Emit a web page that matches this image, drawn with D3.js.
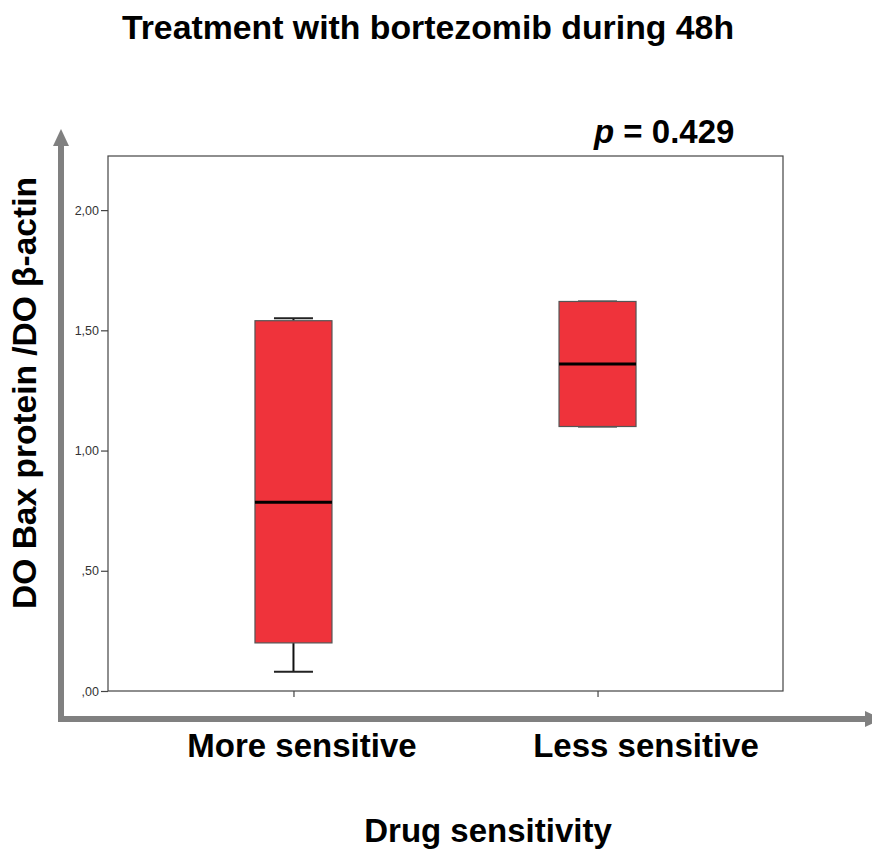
<!DOCTYPE html>
<html>
<head>
<meta charset="utf-8">
<script src="https://cdn.jsdelivr.net/npm/d3@7"></script>
<style>
  html, body { margin: 0; padding: 0; background: #fff; }
  svg { display: block; font-family: "Liberation Sans", Arial, Helvetica, sans-serif; }
</style>
</head>
<body>
<svg id="chart" width="872" height="850"></svg>
<script>
// Groups and box-plot summaries (DO Bax / DO β-actin)
const categories = ["More sensitive", "Less sensitive"];
const whiskerLow = [0.08, 1.10];
const q1Values = [0.20, 1.10];
const medianValues = [0.785, 1.36];
const q3Values = [1.54, 1.62];
const whiskerHigh = [1.55, 1.62];
const yTicks = [0, 0.5, 1.0, 1.5, 2.0];
const yTickLabels = [",00", ",50", "1,00", "1,50", "2,00"];
const yDomainMax = 2.225;

const titleText = "Treatment with bortezomib during 48h";
const yTitle = "DO Bax protein /DO β-actin";
const xTitle = "Drug sensitivity";

const boxes = categories.map((c, i) => ({
  cat: c, lo: whiskerLow[i], q1: q1Values[i], med: medianValues[i],
  q3: q3Values[i], hi: whiskerHigh[i]
}));

const svg = d3.select("#chart");
const frame = { left: 108, right: 783, top: 156, bottom: 691 };

const x = d3.scalePoint().domain(categories)
  .range([frame.left, frame.right]).padding(0.61);
const y = d3.scaleLinear().domain([0, yDomainMax])
  .range([frame.bottom, frame.top]);

const boxW = 77, capW = 39;
const red = "#ef333b", grey = "#808080", frameCol = "#444";

// Plot frame
svg.append("rect")
  .attr("x", frame.left).attr("y", frame.top)
  .attr("width", frame.right - frame.left).attr("height", frame.bottom - frame.top)
  .attr("fill", "none").attr("stroke", frameCol).attr("stroke-width", 1.2);

// Y axis ticks and labels
const yAxis = d3.axisLeft(y).tickValues(yTicks)
  .tickFormat((d, i) => yTickLabels[i]).tickSize(7).tickPadding(2);
const gy = svg.append("g").attr("transform", `translate(${frame.left},0)`).call(yAxis);
gy.select(".domain").remove();
gy.selectAll("line").attr("stroke", frameCol).attr("stroke-width", 1.2);
gy.selectAll("text").attr("font-size", 12.5).attr("fill", "#333")
  .attr("font-family", "'Liberation Sans', Arial, sans-serif");

// X axis ticks (no labels on the axis itself)
const xAxis = d3.axisBottom(x).tickSize(6).tickFormat("");
const gx = svg.append("g").attr("transform", `translate(0,${frame.bottom})`).call(xAxis);
gx.select(".domain").remove();
gx.selectAll("line").attr("stroke", frameCol).attr("stroke-width", 1.2);

// Box plots
const g = svg.append("g");
boxes.forEach(b => {
  const cx = x(b.cat);
  // whiskers
  g.append("line").attr("x1", cx).attr("x2", cx)
    .attr("y1", y(b.q3)).attr("y2", y(b.hi))
    .attr("stroke", "#111").attr("stroke-width", 2);
  g.append("line").attr("x1", cx).attr("x2", cx)
    .attr("y1", y(b.q1)).attr("y2", y(b.lo))
    .attr("stroke", "#111").attr("stroke-width", 2);
  [b.lo, b.hi].forEach(v => {
    g.append("line").attr("x1", cx - capW / 2).attr("x2", cx + capW / 2)
      .attr("y1", y(v)).attr("y2", y(v))
      .attr("stroke", "#222").attr("stroke-width", 2);
  });
  // box
  g.append("rect")
    .attr("x", cx - boxW / 2).attr("y", y(b.q3))
    .attr("width", boxW).attr("height", y(b.q1) - y(b.q3))
    .attr("fill", red).attr("stroke", "#555").attr("stroke-width", 1.2);
  // median
  g.append("line").attr("x1", cx - boxW / 2).attr("x2", cx + boxW / 2)
    .attr("y1", y(b.med)).attr("y2", y(b.med))
    .attr("stroke", "#000").attr("stroke-width", 3);
});

// Grey arrow axes
const arrowX = 61, arrowY = 719, arrowW = 6;
svg.append("line").attr("x1", arrowX).attr("x2", arrowX)
  .attr("y1", arrowY + arrowW / 2).attr("y2", 145)
  .attr("stroke", grey).attr("stroke-width", arrowW);
svg.append("path")
  .attr("d", `M${arrowX - 8},146 L${arrowX},129 L${arrowX + 8},146 Z`)
  .attr("fill", grey);
svg.append("line").attr("x1", arrowX - arrowW / 2).attr("x2", 866)
  .attr("y1", arrowY).attr("y2", arrowY)
  .attr("stroke", grey).attr("stroke-width", arrowW);
svg.append("path")
  .attr("d", `M865,${arrowY - 8} L882,${arrowY} L865,${arrowY + 8} Z`)
  .attr("fill", grey);

// Texts
const bold = sel => sel.attr("font-weight", "bold").attr("fill", "#000");
bold(svg.append("text").attr("x", 428).attr("y", 39)
  .attr("text-anchor", "middle").attr("font-size", 33.8).text(titleText));

const pText = svg.append("text").attr("x", 594).attr("y", 143)
  .attr("font-size", 33).attr("font-weight", "bold");
pText.append("tspan").attr("font-style", "italic").text("p");
pText.append("tspan").text(" = 0.429");

bold(svg.append("text")
  .attr("transform", "translate(36,393) rotate(-90)")
  .attr("text-anchor", "middle").attr("font-size", 33.5).text(yTitle));

const catLabelX = [302, 646];
categories.forEach((c, i) => {
  bold(svg.append("text").attr("x", catLabelX[i]).attr("y", 757)
    .attr("text-anchor", "middle").attr("font-size", 33).text(c));
});

bold(svg.append("text").attr("x", 488).attr("y", 842)
  .attr("text-anchor", "middle").attr("font-size", 33).text(xTitle));
</script>
</body>
</html>
